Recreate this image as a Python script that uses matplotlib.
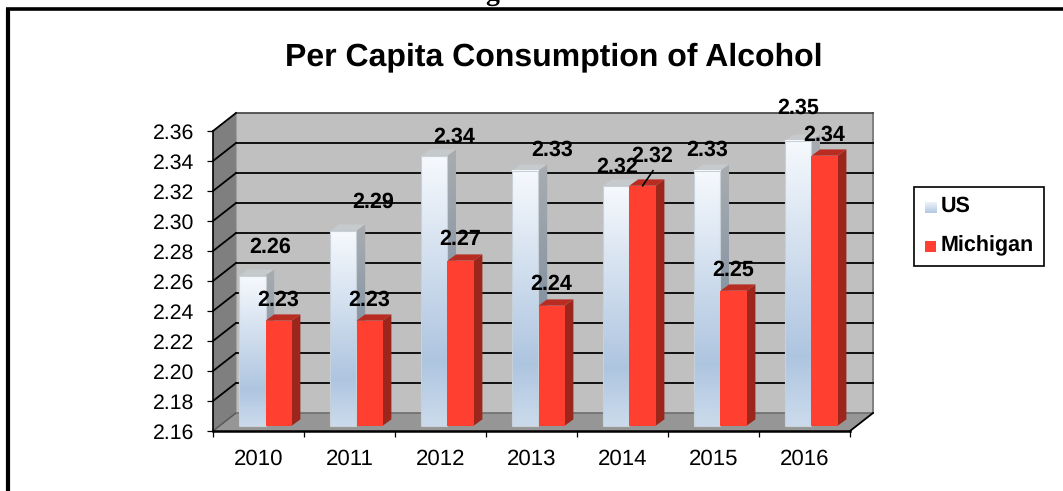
import numpy as np
import matplotlib
matplotlib.use('Agg')
import matplotlib.pyplot as plt
from matplotlib.colors import LinearSegmentedColormap
from matplotlib.patches import Polygon, Rectangle

plt.rcParams['font.family'] = ['Liberation Sans', 'DejaVu Sans']
plt.rcParams['text.hinting'] = 'none'

years = ['2010', '2011', '2012', '2013', '2014', '2015', '2016']
us = [2.26, 2.29, 2.34, 2.33, 2.32, 2.33, 2.35]
michigan = [2.23, 2.23, 2.27, 2.24, 2.32, 2.25, 2.34]
y_ticks = [2.16, 2.18, 2.20, 2.22, 2.24, 2.26, 2.28, 2.30, 2.32, 2.34, 2.36]

# label offsets from the top of each bar, in pixels
us_label_offsets = [(18, 29), (30, 29), (20, 19), (27, 21), (1, 19), (0, 21), (0, 33)]
mi_label_offsets = [(0, 21), (0, 21), (0, 21), (0, 21), (10, 30), (0, 21), (0, 21)]

W, H = 1063, 491
LEFT, RIGHT, BOTTOM, TOP = 213, 850, 431, 131
X_UNIT = (RIGHT - LEFT) / len(years)
Y_UNIT = (BOTTOM - TOP) / (y_ticks[-1] - y_ticks[0])

# depth of the fake 3d box and of the bars, in pixels
WALL_DX, WALL_DY = 23, 18
BAR_DX, BAR_DY = 8.7, 6.3
BAR_LIFT = 5.3 / Y_UNIT
BAR_W = 26.2 / X_UNIT
BAR_START = 26.3 / X_UNIT

us_front = LinearSegmentedColormap.from_list('us_front', [(0, '#f6f9fd'), (0.76, '#aec5e0'), (1, '#cbdbec')])
us_side = LinearSegmentedColormap.from_list('us_side', [(0, '#a9adb0'), (0.76, '#75889e'), (1, '#8a9aaa')])
legend_us = LinearSegmentedColormap.from_list('legend_us', ['#eef3f9', '#b4c9e2'])
ramp = np.linspace(0, 1, 128).reshape(-1, 1)


def px(x, y):
    # figure pixel -> data coordinates
    return (x - LEFT) / X_UNIT, y_ticks[0] + (BOTTOM - y) / Y_UNIT


def shift(x, y, dx, dy):
    return x + dx / X_UNIT, y + dy / Y_UNIT


fig = plt.figure(figsize=(W / 100, H / 100), dpi=100, facecolor='white')
ax = fig.add_axes([LEFT / W, 1 - BOTTOM / H, (RIGHT - LEFT) / W, (BOTTOM - TOP) / H])
ax.patch.set_alpha(0)
ax.set_xlim(0, len(years))
ax.set_ylim(y_ticks[0], y_ticks[-1])


def poly(points, color, z, edge='none', lw=0):
    p = Polygon(points, closed=True, facecolor=color, edgecolor=edge, linewidth=lw, zorder=z, clip_on=False)
    ax.add_patch(p)
    return p


# walls and floor
x0, x1 = 0, len(years)
y0, y1 = y_ticks[0], y_ticks[-1]
poly([shift(x0, y0, WALL_DX, WALL_DY), shift(x1, y0, WALL_DX, WALL_DY),
      shift(x1, y1, WALL_DX, WALL_DY), shift(x0, y1, WALL_DX, WALL_DY)], '#c0c0c0', 1)
poly([(x0, y0), shift(x0, y0, WALL_DX, WALL_DY), shift(x0, y1, WALL_DX, WALL_DY), (x0, y1)], '#7f7f7f', 1)
poly([(x0, y0), (x1, y0), shift(x1, y0, WALL_DX, WALL_DY), shift(x0, y0, WALL_DX, WALL_DY)], '#969696', 1)

xb0, yb0 = shift(x0, y0, WALL_DX, WALL_DY)
xb1, yb1 = shift(x1, y1, WALL_DX, WALL_DY)
ax.plot([xb1, xb1], [yb0, yb1], color='#808080', lw=1.4, zorder=1.5, clip_on=False)
ax.plot([xb0, xb1], [yb1, yb1], color='#404040', lw=1.2, zorder=1.5, clip_on=False)
ax.plot([xb0, xb1], [yb0, yb0], color='#6e6e6e', lw=1.2, zorder=1.5, clip_on=False)
ax.plot([xb0, xb0], [yb0, yb1], color='#a0a0a0', lw=0.8, zorder=1.5, clip_on=False)
ax.plot([x1, xb1], [y0, yb0], color='black', lw=1.3, zorder=1.5, clip_on=False)

# gridlines run over the back wall and down the left wall
for t in y_ticks[1:-1]:
    xa, ya = shift(x0, t, WALL_DX, WALL_DY)
    xc, yc = shift(x1, t, WALL_DX, WALL_DY)
    ax.plot([xa, xc], [ya, yc], color='#111111', lw=1.4, zorder=1.6, clip_on=False)
    ax.plot([x0, xa], [t, ya], color='black', lw=1.3, zorder=1.6, clip_on=False)
ax.plot([x0, xb0], [y1, yb1], color='black', lw=1.3, zorder=1.6, clip_on=False)
ax.plot([x0, xb0], [y0, yb0], color='#555555', lw=1.0, zorder=1.6, clip_on=False)

# bars
for i in range(len(years)):
    z = 3 + i

    # US
    xl = i + BAR_START
    xr = xl + BAR_W
    base = y0 + BAR_LIFT
    top = us[i] + BAR_LIFT
    poly([(xl, top), (xr, top), shift(xr, top, BAR_DX, BAR_DY), shift(xl, top, BAR_DX, BAR_DY)], '#c6cacd', z)
    im = ax.imshow(ramp, cmap=us_side, aspect='auto', zorder=z, extent=[xr, xr + BAR_DX / X_UNIT, base, top + BAR_DY / Y_UNIT], clip_on=True)
    im.set_clip_path(poly([(xr, base), shift(xr, base, BAR_DX, BAR_DY), shift(xr, top, BAR_DX, BAR_DY), (xr, top)], 'none', z))
    ax.imshow(ramp, cmap=us_front, aspect='auto', zorder=z + 0.1, extent=[xl, xr, base, top], clip_on=False)
    ax.add_patch(Rectangle((xl, base), BAR_W, top - base, fill=False, edgecolor='#c8d0d8', linewidth=0.8, zorder=z + 0.1, clip_on=False))

    # Michigan
    xl2 = xr
    xr2 = xl2 + BAR_W
    top2 = michigan[i] + BAR_LIFT
    poly([(xl2, top2), (xr2, top2), shift(xr2, top2, BAR_DX, BAR_DY), shift(xl2, top2, BAR_DX, BAR_DY)], '#b92c22', z + 0.2)
    poly([(xr2, base), shift(xr2, base, BAR_DX, BAR_DY), shift(xr2, top2, BAR_DX, BAR_DY), (xr2, top2)], '#9c261c', z + 0.2)
    poly([(xl2, base), (xr2, base), (xr2, top2), (xl2, top2)], '#ff4030', z + 0.2)

    # data labels
    ax.annotate(f'{us[i]:.2f}', xy=((xl + xr) / 2, top), xytext=us_label_offsets[i], textcoords='offset pixels',
                ha='center', va='center', fontsize=15.5, fontweight='bold', color='black', zorder=30, annotation_clip=False)
    ax.annotate(f'{michigan[i]:.2f}', xy=((xl2 + xr2) / 2, top2), xytext=mi_label_offsets[i], textcoords='offset pixels',
                ha='center', va='center', fontsize=15.5, fontweight='bold', color='black', zorder=30, annotation_clip=False)

# leader line of the 2014 Michigan label
lx0, ly0 = px(642.7, 185.7)
lx1, ly1 = px(653, 170.7)
ax.plot([lx0, lx1], [ly0, ly1], color='black', lw=1.2, zorder=30, clip_on=False)

# axes
for name in ['top', 'right']:
    ax.spines[name].set_visible(False)
ax.spines['left'].set_linewidth(1.2)
ax.spines['bottom'].set_linewidth(1.8)
ax.spines['left'].set_zorder(20)
ax.spines['bottom'].set_zorder(20)
ax.set_yticks(y_ticks)
ax.set_yticklabels([f'{t:.2f}' for t in y_ticks], fontsize=15.3)
ax.tick_params(axis='y', length=4.5, width=0.9, pad=9)
ax.set_xticks(np.arange(len(years) + 1))
ax.set_xticklabels([])
ax.set_xticks(np.arange(len(years)) + 0.5, minor=True)
ax.set_xticklabels(years, minor=True, fontsize=16)
ax.tick_params(axis='x', which='major', length=4.5, width=0.9)
ax.tick_params(axis='x', which='minor', length=0, pad=13)

ax.set_xlim(0, len(years))
ax.set_ylim(y_ticks[0], y_ticks[-1])

# title
fig.text(553.5 / W, 1 - 57 / H, 'Per Capita Consumption of Alcohol', ha='center', va='center',
         fontsize=23, fontweight='bold', color='black')

# legend box
lax = fig.add_axes([0, 0, 1, 1], zorder=40)
lax.patch.set_alpha(0)
lax.set_xlim(0, W)
lax.set_ylim(H, 0)
lax.axis('off')
lax.add_patch(Rectangle((914, 187), 130, 79, facecolor='white', edgecolor='black', linewidth=1.2, zorder=1))
lax.imshow(ramp, cmap=legend_us, aspect='auto', extent=[925, 937, 213, 202], zorder=2)
lax.add_patch(Rectangle((925, 241), 11, 11, facecolor='#ff4030', edgecolor='none', zorder=2))
lax.set_xlim(0, W)
lax.set_ylim(H, 0)
lax.text(941, 206, 'US', ha='left', va='center', fontsize=15.5, fontweight='bold')
lax.text(941, 246, 'Michigan', ha='left', va='center', fontsize=15.5, fontweight='bold')

# page frame and the cut-off caption above it
lax.plot([8, 8], [8.5, H], color='black', lw=3, solid_capstyle='butt')
lax.plot([6, W], [8.5, 8.5], color='black', lw=2.6, solid_capstyle='butt')
lax.text(492, 0, 'g', ha='center', va='baseline', fontsize=20, fontweight='bold', family='Liberation Serif')

fig.savefig('out.png', dpi=100, facecolor='white')
